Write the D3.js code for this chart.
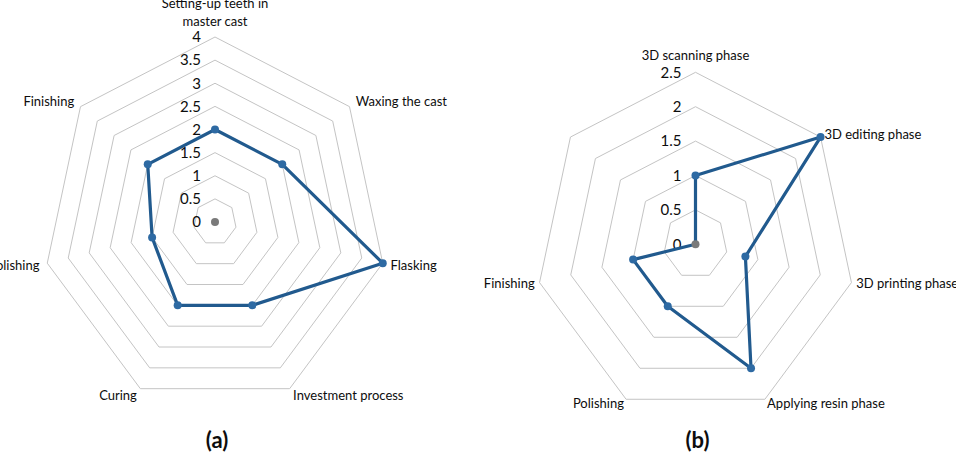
<!DOCTYPE html>
<html>
  <head>
    <meta charset="UTF-8" />
    <style>
      body {
        margin: 0;
        background: #fff;
        font-family: "Lato";
      }
      svg text {
        fill: #0d0d0d;
      }
    </style>
  </head>
  <body>
    <svg></svg>
    <script src="https://d3js.org/d3.v7.min.js"></script>
    <script>
      // Chart (a) - conventional workflow
      const axesA = [
        ["Setting-up teeth in", "master cast"],
        ["Waxing the cast"],
        ["Flasking"],
        ["Investment process"],
        ["Curing"],
        ["Polishing"],
        ["Finishing"],
      ];
      const valuesA = [2, 2, 4, 2, 2, 1.5, 2];
      const ticksA = [0, 0.5, 1, 1.5, 2, 2.5, 3, 3.5, 4];

      // Chart (b) - digital workflow
      const axesB = [
        ["3D scanning phase"],
        ["3D editing phase"],
        ["3D printing phase"],
        ["Applying resin phase"],
        ["Polishing"],
        ["Finishing"],
        [""],
      ];
      const valuesB = [1, 2.5, 0.8, 2, 1, 1, 0];
      const ticksB = [0, 0.5, 1, 1.5, 2, 2.5];

      let width = 956,
        height = 460;

      let svg = d3
        .select("svg")
        .attr("width", width)
        .attr("height", height)
        .attr("viewBox", "0 0 " + width + " " + height);

      function drawRadar(opts) {
        let g = svg.append("g");
        let n = opts.axes.length;
        let max = d3.max(opts.ticks);

        let r = d3.scaleLinear().domain([0, max]).range([0, opts.ry]);
        let angle = d3
          .scaleLinear()
          .domain([0, n])
          .range([0, 2 * Math.PI]);

        // excel picture is a bit squeezed horizontally
        function pt(i, v) {
          let a = angle(i);
          return [
            opts.cx + opts.kx * r(v) * Math.sin(a),
            opts.cy - r(v) * Math.cos(a),
          ];
        }

        //Grid rings
        g.append("g")
          .selectAll("path")
          .data(opts.ticks.filter((t) => t > 0))
          .enter()
          .append("path")
          .attr("fill", "none")
          .attr("stroke", "#c4c4c4")
          .attr("stroke-width", 1)
          .attr("d", (t) =>
            d3.line()(d3.range(n).map((i) => pt(i, t))) + "Z"
          );

        //Tick labels
        g.append("g")
          .selectAll("text")
          .data(opts.ticks)
          .enter()
          .append("text")
          .attr("x", opts.cx - 14)
          .attr("y", (t) => pt(0, t)[1])
          .attr("dy", "0.35em")
          .attr("text-anchor", "end")
          .style("font-size", "15px")
          .text((t) => t);

        //Axis labels
        let lab = g
          .append("g")
          .selectAll("text")
          .data(opts.axes)
          .enter()
          .append("text")
          .style("font-size", "13px")
          .attr("text-anchor", (d, i) => {
            let s = Math.sin(angle(i));
            return Math.abs(s) < 0.01 ? "middle" : s > 0 ? "start" : "end";
          })
          .attr("transform", (d, i) => {
            let a = angle(i);
            let p = pt(i, max);
            if (i == 0) return "translate(" + p[0] + "," + (p[1] - opts.topGap) + ")";
            return (
              "translate(" +
              (p[0] + opts.off * Math.sin(a)) +
              "," +
              (p[1] - opts.off * Math.cos(a)) +
              ")"
            );
          });

        lab
          .selectAll("tspan")
          .data((d) => d.map((t, k) => ({ t: t, k: k, len: d.length })))
          .enter()
          .append("tspan")
          .attr("x", 0)
          .attr("y", (d) => (d.k - (d.len - 1)) * 18)
          .attr("dy", "0.35em")
          .text((d) => d.t);

        //Series line
        g.append("path")
          .attr("fill", "none")
          .attr("stroke", "#215a8e")
          .attr("stroke-width", 3.2)
          .attr("stroke-linejoin", "round")
          .attr(
            "d",
            d3.line()(opts.values.map((v, i) => pt(i, v))) + "Z"
          );

        //Markers (skip zero points, the grey marker sits there)
        g.append("g")
          .selectAll("circle")
          .data(opts.values.map((v, i) => ({ v: v, i: i })).filter((d) => d.v > 0))
          .enter()
          .append("circle")
          .attr("cx", (d) => pt(d.i, d.v)[0])
          .attr("cy", (d) => pt(d.i, d.v)[1])
          .attr("r", 4)
          .attr("fill", "#2e6aa3");

        //Grey zero marker at centre
        g.append("circle")
          .attr("cx", pt(0, 0)[0])
          .attr("cy", pt(0, 0)[1])
          .attr("r", 4)
          .attr("fill", "#7a7a7a");

        //Caption
        g.append("text")
          .attr("x", opts.cx + 2)
          .attr("y", opts.capY)
          .attr("dy", "0.35em")
          .attr("text-anchor", "middle")
          .style("font-size", "22px")
          .style("font-weight", "bold")
          .text(opts.caption);
      }

      drawRadar({
        axes: axesA,
        values: valuesA,
        ticks: ticksA,
        cx: 215,
        cy: 222,
        ry: 185,
        kx: 0.93,
        off: 8,
        topGap: 16,
        capY: 440,
        caption: "(a)",
      });

      drawRadar({
        axes: axesB,
        values: valuesB,
        ticks: ticksB,
        cx: 695.5,
        cy: 244.3,
        ry: 172,
        kx: 0.93,
        off: 5,
        topGap: 16.5,
        capY: 440,
        caption: "(b)",
      });
    </script>
  </body>
</html>
